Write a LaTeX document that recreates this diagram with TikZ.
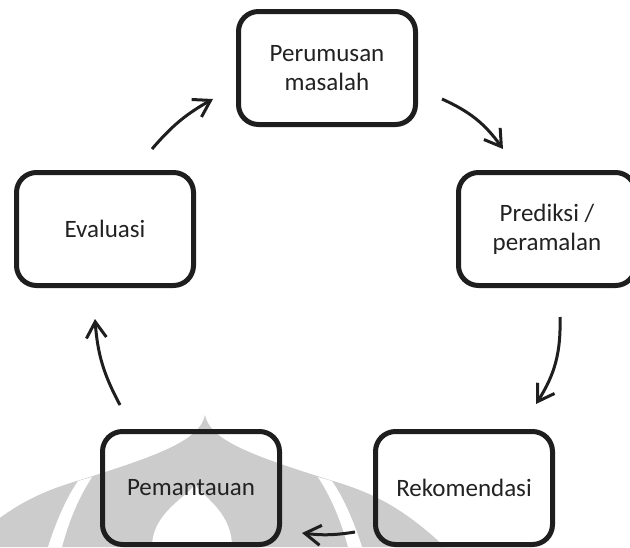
\documentclass[tikz,border=0pt]{standalone}
\usepackage{fontspec}
\setmainfont{Carlito}
\usetikzlibrary{arrows.meta}
\definecolor{ink}{HTML}{1E1E1E}
\definecolor{txt}{HTML}{222222}
\definecolor{wm}{gray}{0.80}
\begin{document}
\begin{tikzpicture}[x=1pt,y=-1pt,
  stage/.style={draw=ink, line width=5pt, rounded corners=20pt,
    minimum width=177pt, minimum height=113pt, align=center, text=txt,
    inner sep=0pt, font=\fontsize{25}{29}\selectfont},
  flow/.style={draw=ink, line width=3pt,
    -{Straight Barb[length=16pt,width=20pt]}},
]
\useasboundingbox (0,0) rectangle (630,547);

% faint emblem in the background
\begin{scope}
\clip (0,0) rectangle (630,547);
\fill[wm] (205,415) .. controls (200,440) and (160,455) .. (80,480)
  .. controls (40,492) and (10,505) .. (-35,547) -- (445,547)
  .. controls (400,505) and (370,492) .. (330,480)
  .. controls (250,455) and (210,440) .. (205,415) -- cycle;
\fill[white] (78,481) .. controls (65,500) and (55,525) .. (48,547)
  -- (62,547) .. controls (68,525) and (76,502) .. (92,477) -- cycle;
\fill[white] (332,481) .. controls (345,500) and (355,525) .. (362,547)
  -- (348,547) .. controls (342,525) and (334,502) .. (318,477) -- cycle;
\fill[white] (195,485) .. controls (182,500) and (152,515) .. (152,547)
  -- (232,547) .. controls (232,515) and (208,500) .. (195,485) -- cycle;
\end{scope}

% process stages
\node[stage] (plan) at (327,68)  {Perumusan\\masalah};
\node[stage] (pred) at (547,229) {Prediksi /\\peramalan};
\node[stage] (reko) at (464,488) {Rekomendasi};
\node[stage] (mon)  at (191,488) {Pemantauan};
\node[stage] (eval) at (105,229) {Evaluasi};

% free ends of the cycle arrows
\coordinate (a1s) at (152,149); \coordinate (a1e) at (213,99);
\coordinate (a2s) at (442,99);  \coordinate (a2e) at (503,149);
\coordinate (a3s) at (560,317); \coordinate (a3e) at (536,404);
\coordinate (a4s) at (355,532); \coordinate (a4e) at (302,533);
\coordinate (a5s) at (120,405); \coordinate (a5e) at (95,319);

\draw[flow] (a1s) to[bend left=10] (a1e);
\draw[flow] (a2s) to[bend left=15] (a2e);
\draw[flow] (a3s) to[bend left=17] (a3e);
\draw[flow] (a4s) to[bend left=8]  (a4e);
\draw[flow] (a5s) to[bend left=12] (a5e);
\end{tikzpicture}
\end{document}
